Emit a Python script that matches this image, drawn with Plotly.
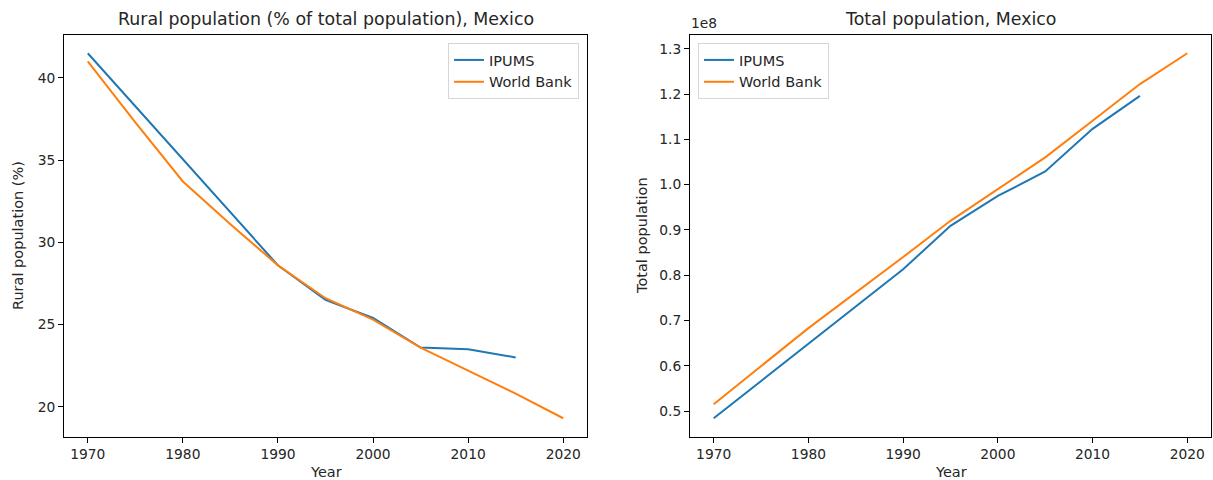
import plotly.graph_objects as go

# Rural population share (% of total), Mexico
ipums_years = [1970, 1990, 1995, 2000, 2005, 2010, 2015]
ipums_rural = [41.5, 28.6, 26.5, 25.4, 23.6, 23.5, 23.0]

wb_years = [1970, 1975, 1980, 1985, 1990, 1995, 2000, 2005, 2010, 2015, 2020]
wb_rural = [41.0, 37.3, 33.7, 31.1, 28.6, 26.6, 25.3, 23.6, 22.2, 20.8, 19.3]

# Total population, Mexico
ipums_pop = [48_400_000, 81_300_000, 90_900_000, 97_500_000,
             102_900_000, 112_300_000, 119_600_000]
wb_pop_years = [1970, 1980, 1990, 1995, 2000, 2005, 2010, 2015, 2020]
wb_pop = [51_500_000, 68_300_000, 84_000_000, 92_000_000, 99_000_000,
          106_000_000, 114_100_000, 122_200_000, 129_000_000]

pop_ticks = [0.5e8, 0.6e8, 0.7e8, 0.8e8, 0.9e8, 1.0e8, 1.1e8, 1.2e8, 1.3e8]
pop_tick_text = ["0.5", "0.6", "0.7", "0.8", "0.9", "1.0", "1.1", "1.2", "1.3"]
year_ticks = [1970, 1980, 1990, 2000, 2010, 2020]

BLUE = "#1f77b4"
ORANGE = "#ff7f0e"
FONT = "DejaVu Sans"
TXT = "#262626"
W, H = 1213, 480
TICK_SIZE = 13.8
LABEL_SIZE = 14.5
TITLE_SIZE = 17.4


def padded(vals, frac=0.05):
    lo, hi = min(vals), max(vals)
    d = (hi - lo) * frac
    return [lo - d, hi + d]


def px_x(p):
    return p / W


def px_y(p):
    return 1 - p / H


fig = go.Figure()

fig.add_trace(go.Scatter(x=ipums_years, y=ipums_rural, name="IPUMS", mode="lines",
                         line=dict(color=BLUE, width=2), xaxis="x", yaxis="y",
                         legend="legend"))
fig.add_trace(go.Scatter(x=wb_years, y=wb_rural, name="World Bank", mode="lines",
                         line=dict(color=ORANGE, width=2), xaxis="x", yaxis="y",
                         legend="legend"))
fig.add_trace(go.Scatter(x=ipums_years, y=ipums_pop, name="IPUMS", mode="lines",
                         line=dict(color=BLUE, width=2), xaxis="x2", yaxis="y2",
                         legend="legend2"))
fig.add_trace(go.Scatter(x=wb_pop_years, y=wb_pop, name="World Bank", mode="lines",
                         line=dict(color=ORANGE, width=2), xaxis="x2", yaxis="y2",
                         legend="legend2"))

ydom = [px_y(436.5), px_y(35)]
axis_common = dict(showgrid=False, zeroline=False, showline=True, mirror=True,
                   linecolor="black", linewidth=1, ticks="outside", ticklen=5,
                   tickwidth=1, tickcolor="black", automargin=False,
                   tickfont=dict(family=FONT, size=TICK_SIZE, color=TXT))

xr = padded(ipums_years + wb_years)
xr2 = padded(ipums_years + wb_pop_years)

legend_common = dict(bgcolor="rgba(255,255,255,0.8)", bordercolor="#d6d6d6",
                     borderwidth=1, font=dict(family=FONT, size=LABEL_SIZE, color=TXT),
                     itemwidth=30, tracegroupgap=0)

fig.update_layout(
    width=W, height=H,
    margin=dict(l=0, r=0, t=0, b=0),
    paper_bgcolor="white", plot_bgcolor="white",
    font=dict(family=FONT, size=LABEL_SIZE, color=TXT),
    xaxis=dict(domain=[px_x(64), px_x(587)], range=xr, tickvals=year_ticks,
               anchor="y", **axis_common),
    yaxis=dict(domain=ydom, range=padded(ipums_rural + wb_rural),
               tickvals=[20, 25, 30, 35, 40], anchor="x", **axis_common),
    xaxis2=dict(domain=[px_x(690), px_x(1211)], range=xr2, tickvals=year_ticks,
                anchor="y2", **axis_common),
    yaxis2=dict(domain=ydom, range=padded(ipums_pop + wb_pop), tickvals=pop_ticks,
                ticktext=pop_tick_text, anchor="x2", **axis_common),
    legend=dict(x=px_x(579), y=px_y(43), xanchor="right", yanchor="top",
                **legend_common),
    legend2=dict(x=px_x(698), y=px_y(43), xanchor="left", yanchor="top",
                 **legend_common),
    showlegend=True,
)

ann = [
    dict(text="Rural population (% of total population), Mexico",
         x=px_x((64 + 587) / 2), y=px_y(19), size=TITLE_SIZE),
    dict(text="Total population, Mexico", x=px_x((690 + 1211) / 2), y=px_y(19),
         size=TITLE_SIZE),
    dict(text="Year", x=px_x((64 + 587) / 2), y=px_y(472), size=LABEL_SIZE),
    dict(text="Year", x=px_x((690 + 1211) / 2), y=px_y(472), size=LABEL_SIZE),
]
for a in ann:
    fig.add_annotation(text=a["text"], x=a["x"], y=a["y"], xref="paper", yref="paper",
                       xanchor="center", yanchor="middle", showarrow=False,
                       font=dict(family=FONT, size=a["size"], color=TXT))

fig.add_annotation(text="Rural population (%)", x=px_x(18), y=px_y(236), xref="paper",
                   yref="paper", xanchor="center", yanchor="middle", textangle=-90,
                   showarrow=False, font=dict(family=FONT, size=LABEL_SIZE, color=TXT))
fig.add_annotation(text="Total population", x=px_x(642), y=px_y(236), xref="paper",
                   yref="paper", xanchor="center", yanchor="middle", textangle=-90,
                   showarrow=False, font=dict(family=FONT, size=LABEL_SIZE, color=TXT))
fig.add_annotation(text="1e8", x=px_x(689), y=px_y(23), xref="paper", yref="paper",
                   xanchor="left", yanchor="middle", showarrow=False,
                   font=dict(family=FONT, size=TICK_SIZE, color=TXT))

fig.write_html("out.html")
